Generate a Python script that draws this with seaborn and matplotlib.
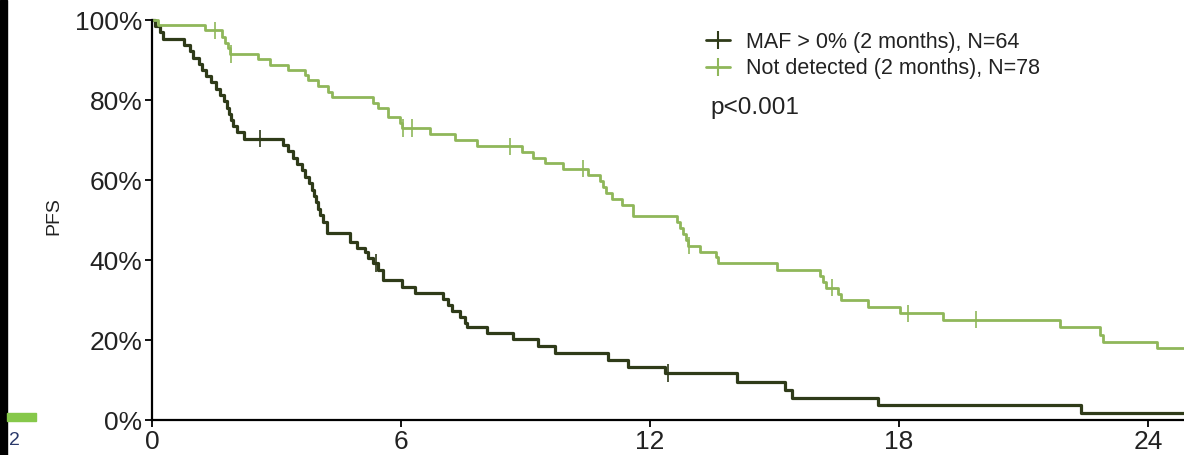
import pandas as pd
import matplotlib.pyplot as plt
import matplotlib.ticker as mtick
from matplotlib.lines import Line2D
from matplotlib.patches import Rectangle
import seaborn as sns

# --- data (time in months, PFS in %) ---
maf_t = [0, 0.07, 0.19, 0.27, 0.77, 0.92, 0.99, 1.13, 1.2, 1.3, 1.42, 1.54, 1.64, 1.73,
         1.81, 1.86, 1.9, 1.95, 2.05, 2.22, 3.16, 3.28, 3.4, 3.5, 3.61, 3.69, 3.78, 3.86,
         3.9, 3.95, 4.0, 4.05, 4.12, 4.22, 4.77, 4.94, 5.13, 5.2, 5.33, 5.45, 5.57, 6.02,
         6.34, 7.01, 7.13, 7.23, 7.42, 7.54, 7.59, 8.07, 8.7, 9.3, 9.71, 10.99, 11.47,
         12.36, 14.1, 15.25, 15.42, 17.49, 22.39, 24.9]
maf_s = [100, 98.4, 96.9, 95.3, 93.75, 92.2, 90.6, 89.1, 87.5, 85.9, 84.4, 82.8, 81.25, 79.7,
         78.1, 76.6, 75, 73.4, 71.9, 70.3, 68.8, 67.2, 65.6, 64.0, 62.4, 60.8, 59.2, 57.6,
         56.0, 54.4, 52.8, 51.2, 49.6, 46.75, 44.5, 43.0, 42.0, 40.5, 39.25, 37.5, 35.0, 33.25,
         31.75, 30.25, 28.75, 27.25, 25.75, 24.25, 23.25, 21.75, 20.25, 18.5, 16.75, 15.0, 13.25,
         11.75, 9.5, 7.5, 5.5, 3.75, 1.75, 1.75]
maf_cens_t = [2.6, 5.4, 12.43]
maf_cens_s = [70.3, 39.25, 11.75]

nd_t = [0, 0.14, 1.28, 1.69, 1.76, 1.83, 1.88, 2.55, 2.84, 3.28, 3.69, 3.76, 3.99, 4.24, 4.34,
        5.33, 5.45, 5.69, 5.98, 6.02, 6.7, 7.3, 7.83, 8.92, 9.18, 9.47, 9.9, 10.51, 10.8,
        10.87, 10.94, 11.08, 11.33, 11.59, 12.65, 12.72, 12.8, 12.87, 12.92, 13.2, 13.58,
        13.64, 15.06, 16.1, 16.17, 16.24, 16.53, 16.6, 17.25, 18.02, 19.06, 21.88, 22.84,
        22.92, 24.22, 24.9]
nd_s = [100, 98.7, 97.4, 95.8, 94.3, 92.9, 91.5, 90.2, 88.8, 87.5, 86.2, 84.9, 83.5, 82.1, 80.7,
        79.3, 77.9, 75.7, 74.3, 73.0, 71.5, 70.0, 68.4, 67.0, 65.6, 64.2, 62.8, 61.3, 59.8,
        58.3, 56.8, 55.3, 53.8, 51.0, 49.5, 48.0, 46.5, 45.0, 43.6, 42.1, 40.7,
        39.2, 37.6, 36.1, 34.6, 33.1, 31.5, 30.0, 28.3, 26.7, 25.1, 23.2, 21.2,
        19.6, 18.0, 18.0]
nd_cens_t = [1.52, 1.9, 6.05, 6.27, 8.63, 10.39, 12.95, 16.39, 18.22, 19.86]
nd_cens_s = [97.4, 91.5, 73.0, 73.0, 68.4, 62.8, 43.6, 33.1, 26.7, 25.1]

labels = ['MAF > 0% (2 months), N=64', 'Not detected (2 months), N=78']
colors = ['#2f3b19', '#8fb75a']
xticks = [0, 6, 12, 18, 24]

curves = pd.concat([
    pd.DataFrame({'t': maf_t, 'pfs': [s / 100 for s in maf_s], 'grupo': labels[0]}),
    pd.DataFrame({'t': nd_t, 'pfs': [s / 100 for s in nd_s], 'grupo': labels[1]}),
])
cens = pd.concat([
    pd.DataFrame({'t': maf_cens_t, 'pfs': [s / 100 for s in maf_cens_s], 'grupo': labels[0]}),
    pd.DataFrame({'t': nd_cens_t, 'pfs': [s / 100 for s in nd_cens_s], 'grupo': labels[1]}),
])
pal = dict(zip(labels, colors))

sns.set_style('ticks')
plt.rcParams['font.family'] = ['Liberation Sans', 'DejaVu Sans']

fig = plt.figure(figsize=(11.84, 4.55), dpi=100)
ax = fig.add_axes([152 / 1184, 35 / 455, 1 - 152 / 1184, 400 / 455])

for lab in labels:
    sns.lineplot(data=curves[curves['grupo'] == lab], x='t', y='pfs', color=pal[lab],
                 drawstyle='steps-post', estimator=None, linewidth=2.3 if lab == labels[0] else 2.0,
                 ax=ax, legend=False, clip_on=False)
sns.scatterplot(data=cens, x='t', y='pfs', hue='grupo', palette=pal, marker='|',
                s=150, linewidth=1.2, ax=ax, legend=False, clip_on=False)

ax.set_xlim(0, 24.87)
ax.set_ylim(0, 1.0)
ax.set_xticks(xticks)
ax.set_yticks([0, 0.2, 0.4, 0.6, 0.8, 1.0])
ax.yaxis.set_major_formatter(mtick.PercentFormatter(1.0, decimals=0))
ax.tick_params(axis='both', labelsize=19, length=5, width=1.3, pad=2, colors='black')
ax.tick_params(axis='both', labelcolor='#222222')
ax.set_xlabel('')
ax.set_ylabel('PFS', fontsize=14, color='#222222')
ax.yaxis.set_label_coords(-0.087, 0.51)
sns.despine(ax=ax)
for sp in ['left', 'bottom']:
    ax.spines[sp].set_linewidth(1.6)
    ax.spines[sp].set_color('black')

handles = [Line2D([], [], color=c, marker='|', markersize=13, markeredgewidth=1.5,
                  linewidth=2.0) for c in colors]
ax.legend(handles, labels, loc='upper left', bbox_to_anchor=(0.537, 0.97), frameon=False,
          fontsize=15.5, handlelength=1.1, handletextpad=0.75, labelspacing=0.25,
          borderpad=0, borderaxespad=0, labelcolor='#222222')
ax.text(13.45, 0.78, 'p<0.001', fontsize=17.5, va='center', ha='left', color='#222222')

# cropping artefacts at the left border of the source picture
fig.add_artist(Rectangle((0, 0), 7 / 1184, 1, transform=fig.transFigure, color='black'))
fig.add_artist(Rectangle((7 / 1184, 34 / 455), 29 / 1184, 8 / 455, transform=fig.transFigure,
                         color='#86c84a'))
fig.text(9 / 1184, 10 / 455, '2', fontsize=14, color='#2b3a6b')

plt.savefig('out.png', dpi=100)
plt.close(fig)
